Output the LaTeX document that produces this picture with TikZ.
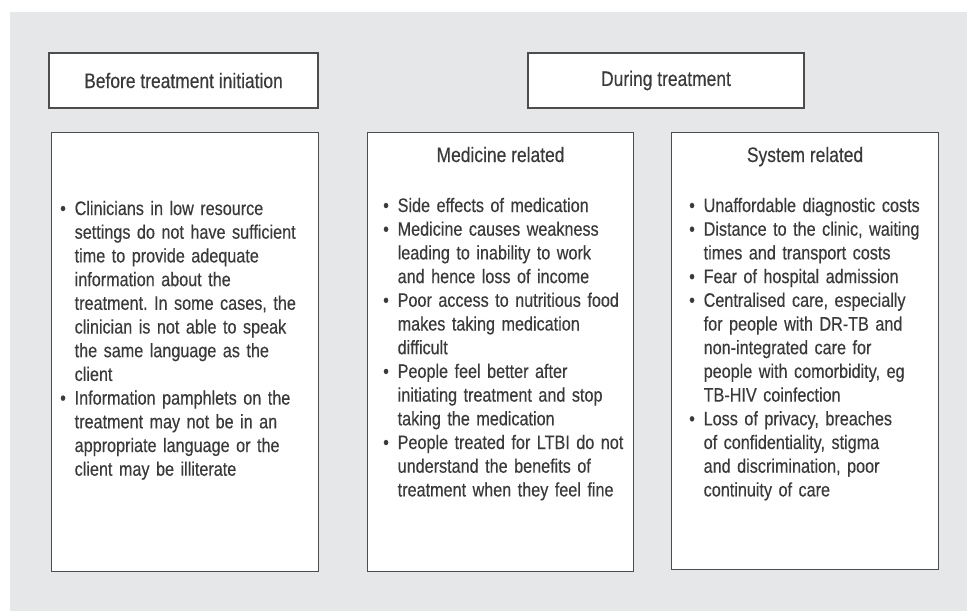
\documentclass[tikz,border=0pt]{standalone}
\usepackage{fontspec}
\setmainfont[FakeStretch=0.83, FakeBold=0.3]{Liberation Sans}
\usetikzlibrary{positioning}
\definecolor{bggray}{HTML}{E6E7E8}
\definecolor{txtgray}{HTML}{3A3A3A}
\definecolor{linegray}{HTML}{4D4D4D}
\newcommand\bul{\hangindent=14.5pt\hangafter=1\noindent\makebox[14.5pt][l]{\textbullet}}

\begin{document}
\begin{tikzpicture}[x=1pt, y=-1pt,
panel/.style={draw=linegray, line width=1.1pt, fill=white, inner sep=0},
heading/.style={panel, minimum width=269pt, minimum height=55pt, text=txtgray, font=\fontsize{21}{24}\selectfont},
bigpanel/.style={panel, anchor=north west, minimum height=439pt},
paneltitle/.style={inner sep=0, anchor=base, text=txtgray, font=\fontsize{21}{24}\selectfont},
bodytext/.style={inner sep=0, anchor=base west, align=left, text width=262pt, text=txtgray, font=\fontsize{19.5}{23.7}\selectfont\frenchspacing}]
\useasboundingbox (0,0) rectangle (967,611);
\fill[bggray] (10,12) rectangle (967,611);
% headings
\node[heading] (before) at (183.5,80.5) {Before treatment initiation};
\node[heading, minimum width=276pt] (during) at (666,80.5) {During treatment};
% panels
\node[bigpanel, minimum width=267pt] (pre) at (51,132) {};
\node[bigpanel, minimum width=266pt] (med) at (367,132) {};
\node[bigpanel, minimum width=267pt, minimum height=437pt] (sys) at (671,132) {};
\node[paneltitle] (medtitle) at ([yshift=-30pt]med.north) {Medicine related};
\node[paneltitle] (systitle) at ([yshift=-30pt]sys.north) {System related};
\node[bodytext] (pretext) at ([xshift=9pt, yshift=-83pt]pre.north west) {%
\bul Clinicians in low resource\newline settings do not have sufficient\newline time to provide adequate\newline information about the\newline treatment. In some cases, the\newline clinician is not able to speak\newline the same language as the\newline client\par
\bul Information pamphlets on the\newline treatment may not be in an\newline appropriate language or the\newline client may be illiterate\par};
\node[bodytext] (medtext) at ([xshift=16pt, yshift=-80pt]med.north west) {%
\bul Side effects of medication\par
\bul Medicine causes weakness\newline leading to inability to work\newline and hence loss of income\par
\bul Poor access to nutritious food\newline makes taking medication\newline difficult\par
\bul People feel better after\newline initiating treatment and stop\newline taking the medication\par
\bul People treated for LTBI do not\newline understand the benefits of\newline treatment when they feel fine\par};
\node[bodytext] (systext) at ([xshift=18pt, yshift=-80pt]sys.north west) {%
\bul Unaffordable diagnostic costs\par
\bul Distance to the clinic, waiting\newline times and transport costs\par
\bul Fear of hospital admission\par
\bul Centralised care, especially\newline for people with DR-TB and\newline non-integrated care for\newline people with comorbidity, eg\newline TB-HIV coinfection\par
\bul Loss of privacy, breaches\newline of confidentiality, stigma\newline and discrimination, poor\newline continuity of care\par};
\end{tikzpicture}
\end{document}
